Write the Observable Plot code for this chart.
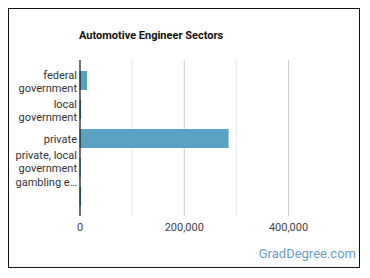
<!DOCTYPE html>
<html><head><meta charset="utf-8">
<script src="https://cdn.jsdelivr.net/npm/d3@7"></script>
<script src="https://cdn.jsdelivr.net/npm/@observablehq/plot@0.6"></script>
<style>
html,body{margin:0;padding:0;background:#fff;width:370px;height:278px;overflow:hidden;font-family:Roboto,sans-serif;}
#box{position:absolute;left:8px;top:8px;width:352px;height:260px;border:1.5px solid #111;box-sizing:border-box;}
#title{position:absolute;left:79px;top:29px;font-size:11px;font-weight:bold;color:#111;white-space:nowrap;}
#src{position:absolute;right:14px;top:246px;font-size:13px;color:#6a9fc2;white-space:nowrap;}
#chart{position:absolute;left:0;top:0;}
</style></head>
<body>
<div id="box"></div>
<div id="chart"></div>
<div id="title">Automotive Engineer Sectors</div>
<div id="src">GradDegree.com</div>
<script>
const categories = ["federal government","local government","private","private, local government gambling establishments","other"];
const tickLabels = ["federal\ngovernment","local\ngovernment","private","private, local\ngovernment\ngambling e…",""];
const values = [14500, 3200, 286000, 2400, 3200];
const majorTicks = [0, 200000, 400000];
const minorTicks = [100000, 300000];

const data = categories.map((c,i)=>({category:c, value:values[i]}));
const labelOf = new Map(categories.map((c,i)=>[c,tickLabels[i]]));

const plot = Plot.plot({
  width: 370, height: 278,
  marginLeft: 79.5, marginRight: 82, marginTop: 60, marginBottom: 62,
  style: {fontFamily: "Roboto, sans-serif", fontSize: "11px", background: "transparent"},
  x: {domain: [0, 400000]},
  y: {domain: categories, padding: 0.36},
  marks: [
    Plot.ruleX(minorTicks, {stroke: "#e8e8e8", strokeWidth: 1, strokeOpacity: 1}),
    Plot.ruleX(majorTicks.slice(1), {stroke: "#cfcfcf", strokeWidth: 1, strokeOpacity: 1}),
    Plot.barX(data, {x: "value", y: "category", fill: "#5aa2c1"}),
    Plot.ruleX([0], {stroke: "#111", strokeWidth: 1.2}),
    Plot.axisX({ticks: majorTicks, tickSize: 0, tickPadding: 7, tickFormat: d3.format(","), fill: "#444", label: null}),
    Plot.axisY({tickSize: 0, tickPadding: 3, tickFormat: d => labelOf.get(d), fill: "#333", lineHeight: 1.22, label: null})
  ]
});
document.getElementById("chart").appendChild(plot);
</script>
</body></html>
